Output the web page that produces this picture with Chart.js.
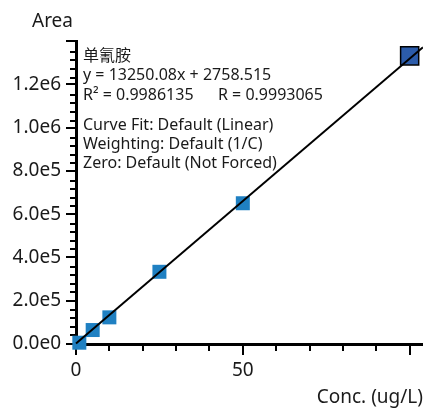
<!DOCTYPE html>
<html>
<head>
<meta charset="utf-8">
<script src="https://cdn.jsdelivr.net/npm/chart.js@4.4.1/dist/chart.umd.min.js"></script>
<style>
  html, body { margin: 0; padding: 0; background: #ffffff; }
  #c { display: block; }
</style>
</head>
<body>
<canvas id="c" width="423" height="409"></canvas>
<script>
// ---- data ----
const concValues = [1, 5, 10, 25, 50, 100];
const areaValues = [6000, 65000, 124000, 336000, 655000, 1341000];
const fitLineX = [0, 104];
const fitLineY = [2758.515, 1380766.8];
const xTickLabels = ['0', '50', ''];
const yTickLabels = ['0.0e0', '2.0e5', '4.0e5', '6.0e5', '8.0e5', '1.0e6', '1.2e6', ''];
const compoundName = '单氰胺';
const equationText = 'y = 13250.08x + 2758.515';
const r2Text = 'R² = 0.9986135';
const rText = 'R = 0.9993065';
const fitInfoLines = ['Curve Fit: Default (Linear)', 'Weighting: Default (1/C)', 'Zero: Default (Not Forced)'];
const yAxisTitle = 'Area';
const xAxisTitle = 'Conc. (ug/L)';

// ---- styles ----
const FONT = '"Noto Sans", "Noto Sans CJK SC", sans-serif';
const TEXT = '#1a1a1a';
const pointBlue = '#1f80c2';
const selectedBlue = '#2c5caa';
const lastIdx = concValues.length - 1;

const scatterData = concValues.map((x, i) => ({ x: x, y: areaValues[i] }));
const fitData = fitLineX.map((x, i) => ({ x: x, y: fitLineY[i] }));

const decorPlugin = {
  id: 'decor',
  beforeDatasetsDraw(chart) {
    const ctx = chart.ctx;
    const xs = chart.scales.x, ys = chart.scales.y;
    const area = chart.chartArea;
    ctx.save();
    // minor ticks
    ctx.strokeStyle = '#000';
    ctx.lineWidth = 2;
    ctx.beginPath();
    for (let v = 0; v <= ys.max; v += 40000) {
      if (v % 200000 === 0) continue;
      const py = Math.round(ys.getPixelForValue(v));
      ctx.moveTo(area.left - 6, py);
      ctx.lineTo(area.left, py);
    }
    for (let v = 0; v <= xs.max; v += 10) {
      if (v % 50 === 0) continue;
      const px = Math.round(xs.getPixelForValue(v));
      ctx.moveTo(px, area.bottom);
      ctx.lineTo(px, area.bottom + 7);
    }
    ctx.stroke();

    // annotation text
    ctx.fillStyle = TEXT;
    ctx.textBaseline = 'alphabetic';
    ctx.textAlign = 'left';
    ctx.font = '16px ' + FONT;
    const tx = area.left + 7;
    ctx.fillText(compoundName, tx, 61);
    ctx.fillText(equationText, tx, 80);
    ctx.fillText(r2Text, tx, 99.5);
    ctx.fillText(rText, 218, 99.5);
    fitInfoLines.forEach((t, i) => ctx.fillText(t, tx, 129.5 + i * 19));

    // y axis title
    ctx.font = '19px ' + FONT;
    ctx.fillText(yAxisTitle, 32, 27);
    ctx.restore();
  }
};

new Chart(document.getElementById('c'), {
  data: {
    datasets: [
      {
        type: 'line',
        data: fitData,
        borderColor: '#000',
        borderWidth: 2,
        pointRadius: 0,
        fill: false,
        tension: 0,
        clip: false
      },
      {
        type: 'scatter',
        data: scatterData,
        pointStyle: 'rect',
        pointRadius: concValues.map((v, i) => i === lastIdx ? 12.8 : 9.9),
        backgroundColor: concValues.map((v, i) => i === lastIdx ? selectedBlue : pointBlue),
        borderColor: concValues.map((v, i) => i === lastIdx ? '#000' : pointBlue),
        borderWidth: concValues.map((v, i) => i === lastIdx ? 1.5 : 0),
        clip: false
      }
    ]
  },
  options: {
    responsive: false,
    animation: false,
    events: [],
    layout: { autoPadding: false, padding: { top: 41, left: 0, right: 0, bottom: 0 } },
    plugins: { legend: { display: false }, tooltip: { enabled: false }, title: { display: false } },
    scales: {
      x: {
        type: 'linear',
        position: 'bottom',
        min: 0,
        max: 104,
        afterFit(s) { s.height = 65; },
        ticks: {
          stepSize: 50,
          includeBounds: false,
          autoSkip: false,
          maxRotation: 0,
          padding: 4,
          color: TEXT,
          font: { family: FONT, size: 19 },
          callback: (v, i) => xTickLabels[i] ?? ''
        },
        grid: { display: true, drawOnChartArea: false, drawTicks: true, tickLength: 11, color: '#000', lineWidth: 2 },
        border: { display: true, color: '#000', width: 3 },
        title: { display: true, text: xAxisTitle, align: 'end', color: TEXT, font: { family: FONT, size: 19 }, padding: { top: 0, bottom: 0 } }
      },
      y: {
        type: 'linear',
        position: 'left',
        min: 0,
        max: 1410000,
        afterFit(s) { s.width = 76; },
        ticks: {
          stepSize: 200000,
          includeBounds: false,
          autoSkip: false,
          padding: 5,
          color: TEXT,
          font: { family: FONT, size: 19 },
          callback: (v, i) => yTickLabels[i] ?? ''
        },
        grid: { display: true, drawOnChartArea: false, drawTicks: true, tickLength: 10, color: '#000', lineWidth: 2 },
        border: { display: true, color: '#000', width: 3 }
      }
    }
  },
  plugins: [decorPlugin]
});
</script>
</body>
</html>
